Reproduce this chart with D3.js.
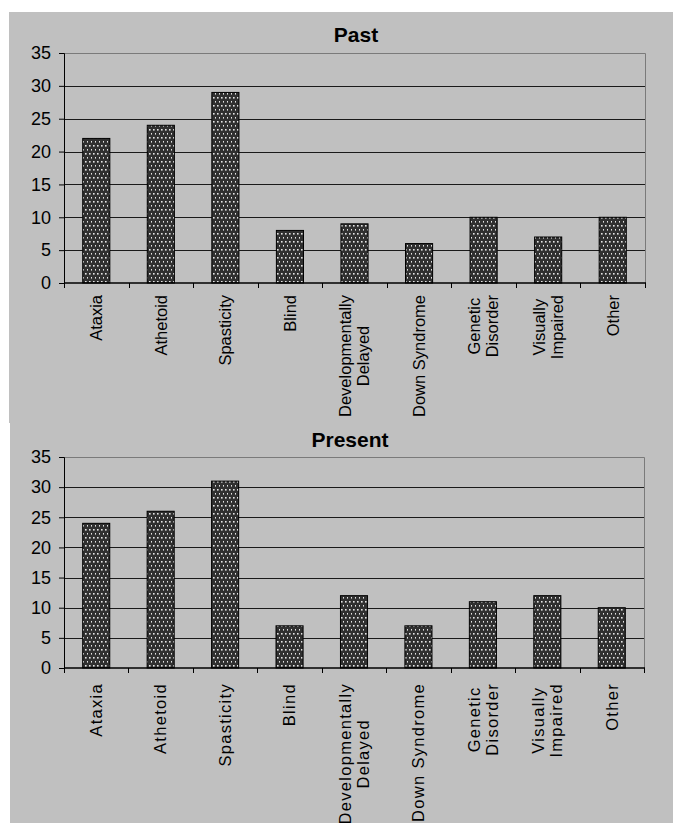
<!DOCTYPE html>
<html>
<head>
<meta charset="utf-8">
<script src="https://cdn.jsdelivr.net/npm/d3@7"></script>
<style>
  html, body { margin: 0; padding: 0; background: #ffffff; }
  svg { display: block; }
  text { font-family: "Liberation Sans", Arial, sans-serif; fill: #000; }
</style>
</head>
<body>
<script>
// Categories (multi-line labels split into lines)
const categories = [
  ["Ataxia"],
  ["Athetoid"],
  ["Spasticity"],
  ["Blind"],
  ["Developmentally", "Delayed"],
  ["Down Syndrome"],
  ["Genetic", "Disorder"],
  ["Visually", "Impaired"],
  ["Other"]
];
const pastValues    = [22, 24, 29, 8, 9, 6, 10, 7, 10];
const presentValues = [24, 26, 31, 7, 12, 7, 11, 12, 10];
const yTicks = [0, 5, 10, 15, 20, 25, 30, 35];
const titles = ["Past", "Present"];

const W = 673, H = 823;
const svg = d3.select("body").append("svg").attr("width", W).attr("height", H);

// dotted fill used for the bars
const defs = svg.append("defs");
const pat = defs.append("pattern")
  .attr("id", "dots").attr("patternUnits", "userSpaceOnUse")
  .attr("width", 4).attr("height", 8);
pat.append("rect").attr("width", 4).attr("height", 8).attr("fill", "#303030");
pat.append("rect").attr("x", 1).attr("y", 1).attr("width", 1.6).attr("height", 1.6).attr("fill", "#e4e4e4");
pat.append("rect").attr("x", 3).attr("y", 5).attr("width", 1.6).attr("height", 1.6).attr("fill", "#e4e4e4");

function drawChart(opt) {
  const g = svg.append("g");
  // panel background
  g.append("rect")
    .attr("x", opt.panel[0]).attr("y", opt.panel[1])
    .attr("width", opt.panel[2]).attr("height", opt.panel[3])
    .attr("fill", "#c0c0c0");

  const x = d3.scaleBand()
    .domain(d3.range(categories.length))
    .range([opt.left, opt.right])
    .paddingInner(0.58).paddingOuter(0.29);
  const y = d3.scaleLinear().domain([0, 35]).range([opt.bottom, opt.top]);

  // plot border (top and right)
  g.append("path")
    .attr("d", `M${opt.left},${opt.top + 0.5}H${opt.right + 0.5}V${opt.bottom}`)
    .attr("fill", "none").attr("stroke", "#7a7a7a").attr("stroke-width", 1);

  // horizontal gridlines
  g.selectAll(".grid").data(yTicks.filter(v => v > 0 && v < 35)).join("line")
    .attr("x1", opt.left).attr("x2", opt.right)
    .attr("y1", d => Math.round(y(d)) + 0.5).attr("y2", d => Math.round(y(d)) + 0.5)
    .attr("stroke", "#1a1a1a").attr("stroke-width", 1.1);

  // bars
  const vals = opt.values;
  g.selectAll(".bar").data(vals).join("rect")
    .attr("x", (d, i) => x(i)).attr("width", x.bandwidth())
    .attr("y", d => y(d)).attr("height", d => y(0) - y(d))
    .attr("fill", "url(#dots)").attr("stroke", "#000").attr("stroke-width", 1);

  // y axis
  const yAxis = d3.axisLeft(y).tickValues(yTicks).tickSize(5).tickPadding(8);
  const ya = g.append("g").attr("transform", `translate(${opt.left},0)`).call(yAxis);
  ya.select(".domain").attr("stroke", "#000");
  ya.selectAll(".tick line").attr("stroke", "#000");
  ya.selectAll(".tick text")
    .style("font-family", '"Liberation Sans", Arial, sans-serif')
    .style("font-size", "18px").attr("fill", "#000");

  // x axis line with ticks at category boundaries
  g.append("line")
    .attr("x1", opt.left).attr("x2", opt.right + 1)
    .attr("y1", y(0)).attr("y2", y(0))
    .attr("stroke", "#000").attr("stroke-width", 1.3);
  const step = x.step();
  const x0 = x.range()[0];
  g.selectAll(".xtick").data(d3.range(categories.length + 1)).join("line")
    .attr("x1", i => Math.round(x0 + i * step) + 0.5)
    .attr("x2", i => Math.round(x0 + i * step) + 0.5)
    .attr("y1", y(0)).attr("y2", y(0) + 5)
    .attr("stroke", "#000");

  // rotated category labels
  const lineGap = 18;
  categories.forEach((lines, i) => {
    const cx = x(i) + x.bandwidth() / 2;
    lines.forEach((ln, j) => {
      const off = (j - (lines.length - 1) / 2) * lineGap;
      g.append("text")
        .attr("transform", `translate(${cx + off},${opt.labelTop}) rotate(-90)`)
        .attr("text-anchor", "middle")
        .attr("x", -opt.blockLen(lines) / 2)
        .attr("dy", "0.35em")
        .style("font-size", opt.labelSize + "px")
        .style("letter-spacing", opt.letterSpacing + "px")
        .text(ln);
    });
  });

  // title
  g.append("text")
    .attr("x", opt.titleX).attr("y", opt.titleY)
    .attr("text-anchor", "middle")
    .style("font-size", "21px").style("font-weight", "bold")
    .text(opt.title);
}

// measure the longest line of a label block so lines centre on one another
const measurer = svg.append("text").attr("visibility", "hidden");
function makeBlockLen(size, ls) {
  return lines => d3.max(lines, ln => {
    measurer.style("font-size", size + "px").style("letter-spacing", ls + "px").text(ln);
    return measurer.node().getComputedTextLength();
  });
}

drawChart({
  panel: [9, 12, W - 9, 411],
  left: 64, right: 645, top: 53, bottom: 283,
  values: pastValues, title: titles[0],
  titleX: 356, titleY: 42,
  labelTop: 295, labelSize: 16.5, letterSpacing: 0, blockLen: makeBlockLen(16.5, 0)
});
drawChart({
  panel: [10, 423, W - 10, H - 423],
  left: 64, right: 644, top: 457, bottom: 668,
  values: presentValues, title: titles[1],
  titleX: 350, titleY: 447,
  labelTop: 683, labelSize: 16.5, letterSpacing: 1.3, blockLen: makeBlockLen(16.5, 1.3)
});
measurer.remove();
</script>
</body>
</html>
